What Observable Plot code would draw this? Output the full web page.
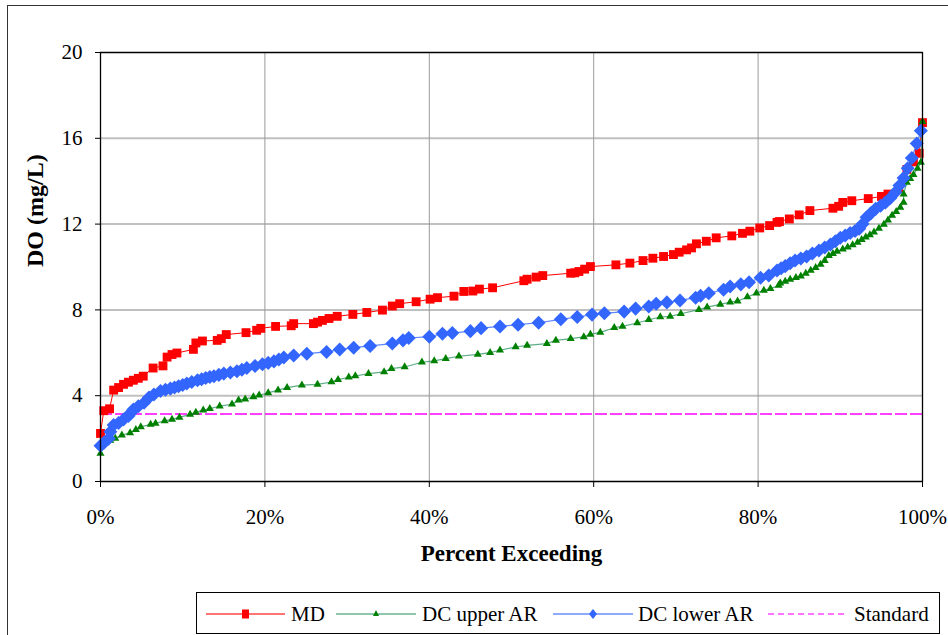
<!DOCTYPE html>
<html>
<head>
<meta charset="utf-8">
<script src="https://cdn.jsdelivr.net/npm/d3@7"></script>
<script src="https://cdn.jsdelivr.net/npm/@observablehq/plot@0.6"></script>
<style>
  html, body { margin: 0; padding: 0; background: #fff; }
  #wrap { position: relative; width: 948px; height: 635px; overflow: hidden; background: #fff; font-family: "Liberation Serif", "Times New Roman", "DejaVu Serif", serif; }
  #chart { position: absolute; left: 0; top: 0; }
  #chart svg, #chart svg text { font-family: "Liberation Serif", "Times New Roman", "DejaVu Serif", serif !important; }
  #border { position: absolute; left: 7px; top: 5px; width: 1000px; height: 700px; border: 1px solid #333; pointer-events: none; z-index: 5; }
  #legend { position: absolute; left: 196px; top: 592px; width: 742px; height: 40px; border: 1px solid #000; background: #fff; z-index: 6; }
  #legend text { font-family: "Liberation Serif", "Times New Roman", "DejaVu Serif", serif; font-size: 21px; }
</style>
</head>
<body>
<div id="wrap">
  <div id="chart"></div>
  <div id="border"></div>
  <div id="legend"></div>
</div>
<script>
// ---- data (percent exceeding, DO mg/L) ----
const xTicks = [0, 20, 40, 60, 80, 100];
const yTicks = [0, 4, 8, 12, 16, 20];
const standardDO = 3.15;

const mdPoints = [
  [0,2.24],[0.4,3.3],[1.1,3.39],[1.6,4.26],[2.2,4.38],[2.8,4.53],[3.4,4.63],[4.0,4.72],[4.6,4.81],[5.2,4.91],
  [6.4,5.29],[7.6,5.39],[8.1,5.8],[8.7,5.92],[9.3,5.99],[11.3,6.16],[11.6,6.46],[12.4,6.55],[14.2,6.58],[14.7,6.66],
  [15.3,6.85],[17.7,6.94],[19.0,7.05],[19.5,7.14],[21.3,7.23],[23.2,7.26],[23.5,7.36],[25.9,7.36],[26.4,7.43],[27.0,7.51],
  [27.8,7.6],[28.8,7.7],[30.7,7.79],[32.4,7.88],[34.3,7.99],[35.5,8.18],[36.4,8.29],[38.4,8.38],[40.1,8.5],[41.0,8.57],
  [43.0,8.64],[44.2,8.86],[45.3,8.88],[46.1,8.97],[47.7,9.03],[51.5,9.36],[51.9,9.43],[53.0,9.53],[53.8,9.6],[57.2,9.71],
  [57.7,9.73],[58.2,9.79],[58.9,9.9],[59.6,10.02],[62.7,10.1],[64.4,10.18],[66.0,10.3],[67.2,10.41],[68.5,10.49],[69.7,10.58],
  [70.4,10.69],[71.3,10.8],[71.9,10.89],[72.5,11.08],[73.7,11.2],[74.9,11.36],[76.8,11.45],[78.1,11.57],[79.0,11.67],[80.2,11.82],
  [81.4,11.93],[82.3,12.08],[82.6,12.12],[83.8,12.24],[85.0,12.43],[86.3,12.63],[89.1,12.74],[89.8,12.83],[90.3,13.01],[91.4,13.09],
  [93.4,13.19],[95.0,13.29],[95.8,13.4],[97.1,13.68],[98.1,14.55],[98.9,14.9],[99.6,15.3],[100,16.73]
];

const dcUpperPoints = [
  [0,1.31],[0.6,1.8],[1.2,1.92],[1.8,2.01],[2.6,2.16],[3.6,2.27],[4.3,2.42],[4.9,2.55],[6.1,2.66],[6.7,2.71],[7.8,2.83],[8.7,2.9],[9.6,2.99],
  [10.9,3.13],[11.6,3.22],[12.5,3.33],[13.3,3.4],[14.5,3.51],[16.0,3.6],[16.8,3.79],[17.6,3.84],[18.6,3.94],[19.3,4.02],
  [20.4,4.13],[21.6,4.26],[22.7,4.38],[24.5,4.49],[26.4,4.53],[28.1,4.64],[28.9,4.75],[30.2,4.86],[31.0,4.92],[32.6,5.03],
  [34.5,5.11],[35.4,5.26],[37.0,5.34],[39.1,5.56],[40.6,5.62],[42.0,5.73],[43.6,5.84],[45.9,5.93],[47.4,6.01],[48.6,6.12],
  [50.5,6.27],[51.9,6.35],[54.3,6.43],[55.4,6.58],[57.2,6.66],[58.8,6.74],[59.6,6.86],[60.8,6.95],[62.5,7.17],[63.5,7.23],
  [65.3,7.39],[66.7,7.54],[68.1,7.67],[69.3,7.7],[70.6,7.82],[72.8,8.01],[73.8,8.13],[75.4,8.26],[76.6,8.36],[77.5,8.41],
  [78.7,8.6],[79.8,8.78],[80.7,8.91],[81.5,8.99],[82.5,9.14],[82.7,9.25],[83.3,9.33],[83.9,9.42],[84.6,9.5],[85.2,9.57],[85.8,9.7],[86.4,9.84],[87.0,9.97],[87.6,10.12],
  [88.1,10.3],[88.6,10.53],[89.1,10.62],[89.6,10.73],[90.3,10.83],[90.9,10.92],[91.5,11.03],[92.1,11.15],[92.6,11.27],[93.1,11.39],[93.6,11.5],[94.1,11.62],[94.7,11.8],[95.3,11.98],[95.8,12.18],[96.3,12.4],[96.8,12.58],[97.3,12.78],[97.7,13.01],
  [97.7,13.4],[98.1,13.94],[98.5,14.12],[98.9,14.3],[99.4,14.6],[99.8,14.87],[100,16.78]
];

const dcLowerPoints = [
  [0,1.67],[0.4,1.8],[1.0,2.0],[1.2,2.32],[1.6,2.63],[2.2,2.73],[2.8,2.89],[3.4,3.05],[3.7,3.2],[4.0,3.36],[4.6,3.51],
  [5.3,3.67],[5.9,3.92],[6.5,4.06],[7.3,4.22],[7.9,4.28],[8.5,4.33],[9.0,4.38],[9.5,4.44],[10.0,4.5],[10.5,4.57],[11.1,4.64],[11.8,4.72],[12.3,4.77],[12.8,4.83],[13.3,4.87],[13.8,4.91],
  [14.4,4.97],[15.0,5.03],[15.8,5.08],[16.6,5.14],[17.2,5.21],[17.8,5.29],[18.8,5.38],[19.7,5.47],[20.4,5.53],[21.1,5.6],[21.7,5.69],[22.3,5.78],[23.5,5.87],[25.1,5.96],[27.5,6.04],[29.1,6.15],
  [30.8,6.24],[32.8,6.32],[35.5,6.43],[36.8,6.58],[37.5,6.69],[40.0,6.75],[41.6,6.89],[42.8,6.92],[45.0,7.01],[46.3,7.15],
  [48.6,7.23],[50.8,7.31],[53.3,7.4],[56.0,7.56],[58.0,7.67],[59.8,7.78],[61.3,7.84],[63.7,7.92],[65.1,8.06],[66.7,8.16],
  [67.6,8.29],[68.9,8.35],[70.5,8.44],[72.4,8.57],[73.0,8.66],[74.0,8.78],[75.8,8.94],[76.6,9.09],[77.9,9.19],[78.9,9.29],
  [80.3,9.5],[81.3,9.6],[82.3,9.84],[82.8,9.94],[83.3,10.04],[83.9,10.17],[84.5,10.3],[85.2,10.4],[85.9,10.49],[86.6,10.63],[87.4,10.77],[88.1,10.91],[88.8,11.05],[89.4,11.2],[90.0,11.36],[90.6,11.47],[91.2,11.59],
  [91.8,11.68],[92.3,11.78],[92.7,12.0],[93.2,12.32],[93.7,12.5],[94.3,12.71],[94.9,12.86],[95.5,13.01],[96.1,13.22],[96.7,13.48],[97.2,13.8],[97.7,14.15],[98.2,14.6],[98.7,15.08],[99.3,15.76],[99.8,16.35]
];

const seriesNames = ["MD", "DC upper AR", "DC lower AR", "Standard"];

// Excel-style diamond (square rotated 45°)
const diamond45 = {
  draw(ctx, size) {
    const r = Math.sqrt(size / 2);
    ctx.moveTo(0, -r); ctx.lineTo(r, 0); ctx.lineTo(0, r); ctx.lineTo(-r, 0); ctx.closePath();
  }
};

const px = d => d[0], py = d => d[1];
const FONT = '"Liberation Serif", "Times New Roman", "DejaVu Serif", serif';

const chart = Plot.plot({
  width: 948,
  height: 592,
  marginLeft: 100,
  marginRight: 26,
  marginTop: 52,
  marginBottom: 111,
  style: { fontFamily: FONT, fontSize: "21px", background: "white", color: "black" },
  x: { domain: [0, 100] },
  y: { domain: [0, 20] },
  marks: [
    Plot.gridY(yTicks, { stroke: "#c0c0c0", strokeWidth: 2, strokeOpacity: 1 }),
    Plot.gridX(xTicks, { stroke: "#9a9a9a", strokeWidth: 1, strokeOpacity: 1 }),
    Plot.ruleY([standardDO], { stroke: "#FF00FF", strokeWidth: 1.6, strokeDasharray: "12,3" }),
    Plot.line(mdPoints, { x: px, y: py, stroke: "#FF0000", strokeWidth: 1 }),
    Plot.dot(mdPoints, { x: px, y: py, symbol: "square", r: 5.0, fill: "#FF0000", stroke: "none" }),
    Plot.line(dcUpperPoints, { x: px, y: py, stroke: "#339966", strokeWidth: 1.2, strokeOpacity: 0.8 }),
    Plot.dot(dcUpperPoints, { x: px, y: py, symbol: "triangle", r: 3.0, fill: "#008000", stroke: "none" }),
    Plot.line(dcLowerPoints, { x: px, y: py, stroke: "#3366FF", strokeWidth: 1.2, strokeOpacity: 0.8 }),
    Plot.dot(dcLowerPoints, { x: px, y: py, symbol: diamond45, r: 5.6, fill: "#3366FF", stroke: "none" }),
    Plot.frame({ stroke: "black", strokeWidth: 1.3 }),
    Plot.axisX(xTicks, { tickSize: 6, tickPadding: 22, tickFormat: d => d + "%", label: null, stroke: "black", fontSize: 21 }),
    Plot.axisY(yTicks, { tickSize: 5, tickPadding: 13, label: null, stroke: "black", fontSize: 21 }),
    Plot.text(["Percent Exceeding"], { text: d => d, frameAnchor: "bottom", dy: 79, fontWeight: "bold", fontSize: 23, fontFamily: FONT }),
    Plot.text(["DO (mg/L)"], { text: d => d, frameAnchor: "left", dx: -65, rotate: -90, fontWeight: "bold", fontSize: 24, fontFamily: FONT })
  ]
});
document.getElementById("chart").appendChild(chart);

// ---- legend ----
const legendItems = [
  { name: seriesNames[0], line: "#FF0000", marker: "square", fill: "#FF0000", x0: 9, x1: 88, tx: 94, dash: null },
  { name: seriesNames[1], line: "#339966", marker: "triangle", fill: "#008000", x0: 139, x1: 219, tx: 225, dash: null },
  { name: seriesNames[2], line: "#3366FF", marker: "diamond", fill: "#3366FF", x0: 356, x1: 436, tx: 441, dash: null },
  { name: seriesNames[3], line: "#FF00FF", marker: null, fill: null, x0: 571, x1: 651, tx: 657, dash: "6,4" }
];
const lsvg = d3.select("#legend").append("svg").attr("width", 742).attr("height", 40);
const cy = 21;
for (const it of legendItems) {
  lsvg.append("line").attr("x1", it.x0).attr("x2", it.x1).attr("y1", cy).attr("y2", cy)
    .attr("stroke", it.line).attr("stroke-width", 2).attr("stroke-opacity", 0.55)
    .attr("stroke-dasharray", it.dash);
  const mx = (it.x0 + it.x1) / 2;
  if (it.marker === "square") {
    lsvg.append("rect").attr("x", mx - 3.5).attr("y", cy - 4.5).attr("width", 7).attr("height", 9).attr("fill", it.fill);
  } else if (it.marker === "triangle") {
    lsvg.append("path").attr("d", `M${mx},${cy - 4}L${mx + 3},${cy + 2}L${mx - 3},${cy + 2}Z`).attr("fill", it.fill);
  } else if (it.marker === "diamond") {
    lsvg.append("path").attr("d", `M${mx},${cy - 5}L${mx + 4},${cy}L${mx},${cy + 5}L${mx - 4},${cy}Z`).attr("fill", it.fill);
  }
  lsvg.append("text").attr("x", it.tx).attr("y", cy).attr("dy", "0.35em").attr("fill", "black").text(it.name);
}
</script>
</body>
</html>
